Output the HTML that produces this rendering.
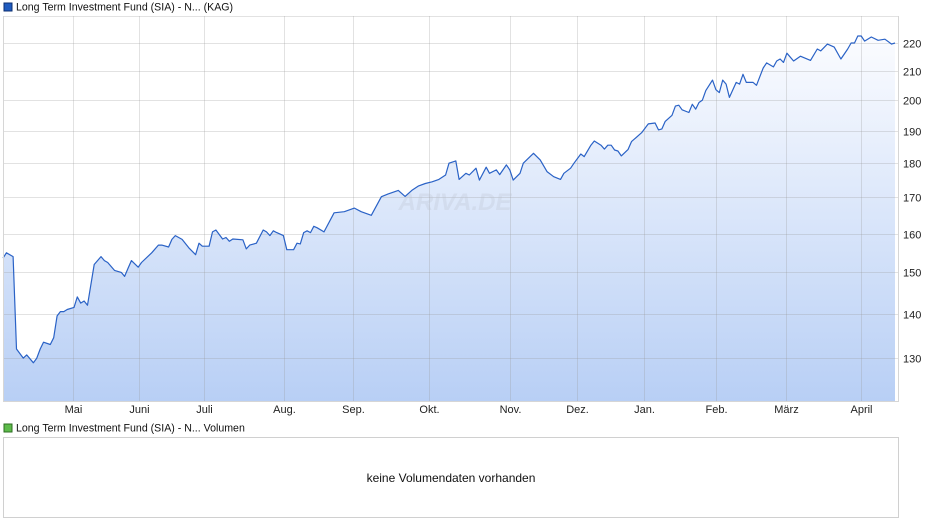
<!DOCTYPE html>
<html><head><meta charset="utf-8"><style>
body{margin:0;background:#fff;font-family:"Liberation Sans",Arial,sans-serif;}
#wrap{position:relative;width:940px;height:526px;overflow:hidden;}
svg text{font-family:"Liberation Sans",Arial,sans-serif;}
</style></head><body>
<div id="wrap">
<svg id="chart" width="940" height="526">
<defs><linearGradient id="fillg" x1="0" y1="0" x2="0" y2="1">
<stop offset="0" stop-color="#fbfcff"/><stop offset="1" stop-color="#b8cff5"/></linearGradient></defs>
<rect x="4" y="3" width="8" height="8" fill="#1f5bbf" stroke="#0c2f70" stroke-width="1"/>
<text x="16" y="10.5" font-size="10.6" fill="#111">Long Term Investment Fund (SIA) - N...  (KAG)</text>
<g id="plot"></g>
<rect x="4" y="424" width="8" height="8" fill="#5dbb4a" stroke="#2d6e22" stroke-width="1"/>
<text x="16" y="431.5" font-size="10.6" fill="#111">Long Term Investment Fund (SIA) - N... Volumen</text>
<rect x="3.5" y="437.5" width="895" height="80" fill="#fff" stroke="#d0d0d0"/>
<text x="451" y="482" font-size="12" fill="#111" text-anchor="middle">keine Volumendaten vorhanden</text>
</svg>
</div>
<script>
const tradingDays=[0,1,3,4,6,7,9,10,11,12,14,15,16,17,18,19,21,22,23,24,25,27,29,30,31,33,35,36,37,38,40,41,44,46,47,49,50,51,53,55,57,58,59,61,62,63,65,66,67,68,71,72,73,75,77,78,79,80,81,83,84,86,87,88,89,90,91,92,93,95,98,101,104,106,109,112,114,117,119,121,123,125,127,129,131,132,134,135,137,138,140,141,143,144,146,147,149,150,151,153,154,157,159,161,163,165,166,168,169,171,172,174,175,177,178,179,180,181,182,183,185,186,189,191,193,194,195,196,198,199,200,201,203,204,205,206,207,208,210,211,212,213,214,215,217,218,219,220,222,223,225,226,228,229,230,231,232,234,236,239,241,242,244,246,248,250,251,252,253,254,255,257,259,261,263,264];
const prices=[153.6,155,154,132,130,130.7,129,130,132,133.5,133,134.5,139.5,140.5,140.5,141,141.5,144,142.5,143,142,152,154,153,152.5,150.5,150,149,151,153,151.3,152.5,155,157,157,156.5,158.5,159.5,158.5,156.3,154.5,157.5,156.7,156.7,160.5,161,158.6,159,158,158.6,158.4,156,157,157.5,161,160.5,159.5,160.8,160.3,159.5,155.8,155.8,157.5,157.3,160.3,160.8,160.3,162,161.6,160.5,165.7,166,167,166,165,170.2,171,172,170.3,172,173.3,174,174.5,175.2,176.5,180,180.7,175.2,177,176.5,178.5,175,178.8,177,178,176.6,179.5,178,175,177,180,183,181,177.5,176,175.2,177,178.5,180,182.8,182,185.5,186.8,185.5,184.3,185.5,185.5,184,183.7,182.2,184.2,186.6,189.4,192.2,192.5,190.3,190.6,193,195,198,198.3,196.8,195.9,198.6,197,199.2,200,203.2,206.8,203.5,202.5,206.8,205.4,200.9,206,205.4,208.8,206,206,205,211,212.8,211.4,213.5,214.2,213,216.3,213.5,215.2,213.7,217.8,217.1,219.6,218.5,214.2,217.8,220,220,222.6,222.6,220.7,222.2,221,221.4,219.6,220];
const monthLabels=["Mai","Juni","Juli","Aug.","Sep.","Okt.","Nov.","Dez.","Jan.","Feb.","März","April"];
const monthTicks=[20.7,40.2,59.5,83.1,103.6,126,150,170,189.6,211,231.7,254];
const yTicks=[130,140,150,160,170,180,190,200,210,220];

const NS="http://www.w3.org/2000/svg";
const L=3,R=898,T=16,B=401;
const xS=d=>L+d*(R-L-3)/264;
const yS=v=>43+Math.log(220/v)*599;
const g=document.getElementById('plot');
function mk(t,a){const e=document.createElementNS(NS,t);for(const k in a)e.setAttribute(k,a[k]);g.appendChild(e);return e;}
let pts=tradingDays.map((d,i)=>xS(d).toFixed(1)+','+yS(prices[i]).toFixed(1));
const area=mk('path',{d:'M'+xS(tradingDays[0])+','+B+' L'+pts.join(' L')+' L'+xS(tradingDays[tradingDays.length-1])+','+B+' Z',fill:'url(#fillg)'});


yTicks.forEach(v=>{
 const y=Math.round(yS(v))+0.5;
 const ln=mk('line',{x1:L,x2:R,y1:y,y2:y,stroke:'rgba(150,150,150,0.28)','stroke-width':1});
 
 
 const t=mk('text',{x:903,y:y+4,'font-size':11,fill:'#222'});t.textContent=v;
 
 
});
const topl=mk('line',{x1:L,x2:R,y1:T+0.5,y2:T+0.5,stroke:'rgba(150,150,150,0.28)'});


monthTicks.forEach((d,i)=>{
 const x=Math.round(xS(d))+0.5;
 const ln=mk('line',{x1:x,x2:x,y1:T,y2:B,stroke:'rgba(150,150,150,0.28)','stroke-width':1});
 
 
 const t=mk('text',{x:x,y:413,'font-size':11,fill:'#222','text-anchor':'middle'});t.textContent=monthLabels[i];
 
 
});
const wm=mk('text',{x:455,y:210,'font-size':24,'font-weight':'bold','font-style':'italic',fill:'rgba(190,195,210,0.3)','text-anchor':'middle'});wm.textContent='ARIVA.DE';


const line=mk('polyline',{points:pts.join(' '),fill:'none',stroke:'#2a62c6','stroke-width':1.2,'stroke-linejoin':'round'});


const frame=mk('path',{d:`M${L+0.5},${T} V${B+0.5} H${R+0.5} V${T}`,fill:'none',stroke:'#d6d6d6'});


</script>
</body></html>
